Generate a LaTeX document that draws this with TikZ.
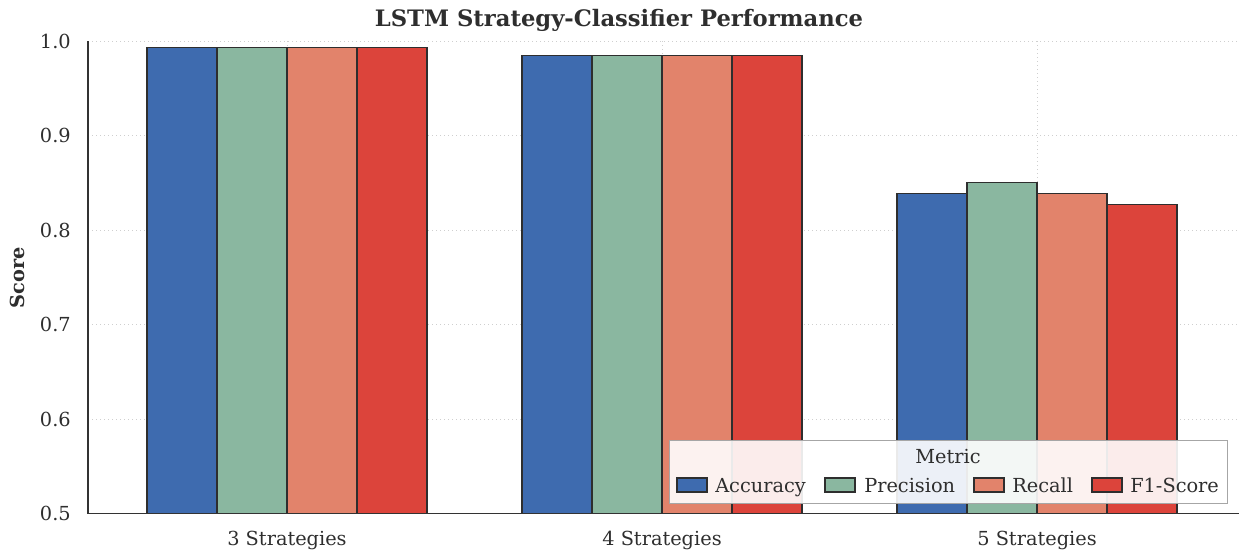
\documentclass[tikz,border=0pt]{standalone}
\usepackage{fontspec}
\setmainfont{DejaVu Serif}
\definecolor{cacc}{HTML}{3E6BAF}
\definecolor{cprec}{HTML}{8AB7A0}
\definecolor{crec}{HTML}{E2836B}
\definecolor{cf1}{HTML}{DC443B}
\definecolor{spine}{HTML}{333333}
\definecolor{gridc}{HTML}{CFCFCF}
\newcommand\mybar[3]{%
  \pgfmathsetmacro\bartop{513.5-(#2-0.5)*944.5}%
  \draw[barstyle, fill=#3] (#1,513.5) rectangle (#1+70,\bartop);}
\begin{document}
\begin{tikzpicture}[x=0.75pt,y=-0.75pt,
  barstyle/.style={draw=spine!90!black, line width=0.8pt},
  gridline/.style={draw=gridc, line width=0.7pt, dash pattern=on 1pt off 2pt},
  ticklab/.style={font=\fontsize{14.5}{17}\selectfont, text=spine!90!black, inner sep=0pt},
  legpatch/.style={draw=spine!90!black, line width=0.8pt},
  legtext/.style={font=\fontsize{14.5}{17}\selectfont, text=spine!90!black, inner sep=0pt, anchor=base west}]
\useasboundingbox (0,0) rectangle (1239,551);
% grid
\foreach \v in {0.6,0.7,0.8,0.9,1.0}{
  \pgfmathsetmacro\gy{513.5-(\v-0.5)*944.5}
  \draw[gridline] (88,\gy) -- (1239,\gy);
}
\foreach \gx in {287,662,1037}{
  \draw[gridline] (\gx,41) -- (\gx,513.5);
}
% bars
\mybar{147}{0.9933}{cacc}
\mybar{217}{0.9933}{cprec}
\mybar{287}{0.9933}{crec}
\mybar{357}{0.9933}{cf1}
\mybar{522}{0.985}{cacc}
\mybar{592}{0.985}{cprec}
\mybar{662}{0.985}{crec}
\mybar{732}{0.985}{cf1}
\mybar{897}{0.8393}{cacc}
\mybar{967}{0.8507}{cprec}
\mybar{1037}{0.8393}{crec}
\mybar{1107}{0.8274}{cf1}
% spines
\draw[spine, line width=1.1pt] (88,41) -- (88,513.5) -- (1239,513.5);
% y tick labels
\foreach \v/\t in {0.5/0.5,0.6/0.6,0.7/0.7,0.8/0.8,0.9/0.9,1.0/1.0}{
  \pgfmathsetmacro\gy{513.5-(\v-0.5)*944.5}
  \node[ticklab, anchor=east] (yt\t) at (71,\gy) {\t};
}
% x tick labels
\node[ticklab, anchor=base] (xt3) at (287,545) {3 Strategies};
\node[ticklab, anchor=base] (xt4) at (662,545) {4 Strategies};
\node[ticklab, anchor=base] (xt5) at (1037,545) {5 Strategies};
% axis label
\node[ticklab, font=\fontsize{14.5}{17}\selectfont\bfseries, rotate=90] (ylab) at (17,278) {Score};
% title
\node[inner sep=0pt, anchor=base, font=\fontsize{17}{20}\selectfont\bfseries, text=spine!90!black] (title) at (619,26) {LSTM Strategy-Classifier Performance};
% legend
\draw[draw=gridc!80!black, line width=0.7pt, fill=white, fill opacity=0.9] (669,440) rectangle (1227,503);
\node[ticklab, anchor=base] (legtitle) at (948,463) {Metric};
\draw[legpatch, fill=cacc] (677,478) rectangle (707,492);
\node[legtext] (l1) at (715,492) {Accuracy};
\draw[legpatch, fill=cprec] (825,478) rectangle (855,492);
\node[legtext] (l2) at (864,492) {Precision};
\draw[legpatch, fill=crec] (974,478) rectangle (1004,492);
\node[legtext] (l3) at (1012,492) {Recall};
\draw[legpatch, fill=cf1] (1092,478) rectangle (1122,492);
\node[legtext] (l4) at (1130,492) {F1-Score};
\end{tikzpicture}
\end{document}
